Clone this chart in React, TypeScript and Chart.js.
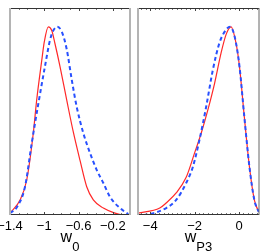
import React, { useEffect, useRef } from "react";
import { Chart, registerables } from "chart.js";
Chart.register(...registerables);

// ---- data: left panel (w0) ----
const w0RedX = [-1.4, -1.283, -1.205, -1.128, -1.089, -1.03, -1.0, -0.953, -0.913, -0.875, -0.817, -0.738, -0.661, -0.583, -0.505, -0.428, -0.311, -0.175, -0.1];
const w0RedY = [0.01, 0.08, 0.186, 0.436, 0.61, 0.82, 0.92, 1.0, 0.98, 0.91, 0.79, 0.61, 0.44, 0.29, 0.15, 0.08, 0.037, 0.01, 0.0];
const w0BlueX = [-1.4, -1.322, -1.225, -1.147, -1.07, -0.992, -0.933, -0.895, -0.848, -0.797, -0.738, -0.68, -0.622, -0.545, -0.467, -0.389, -0.311, -0.233, -0.117, -0.02];
const w0BlueY = [0.01, 0.04, 0.15, 0.38, 0.59, 0.79, 0.93, 0.98, 1.0, 0.975, 0.88, 0.72, 0.575, 0.436, 0.33, 0.24, 0.17, 0.096, 0.037, 0.005];
const w0Ticks = [-1.4, -1, -0.6, -0.2];
const w0Range = [-1.4, 0];
const w0MinorStep = 0.1;

// ---- data: right panel (wP3) ----
const wp3RedX = [-4.55, -3.57, -3.28, -2.83, -2.38, -2.0, -1.7, -1.4, -1.1, -0.81, -0.58, -0.36, -0.13, 0.02, 0.24, 0.47, 0.69, 0.89];
const wp3RedY = [0.01, 0.037, 0.064, 0.117, 0.2, 0.33, 0.436, 0.56, 0.7, 0.86, 0.96, 1.0, 0.91, 0.79, 0.52, 0.255, 0.08, 0.016];
const wp3BlueX = [-4.3, -4.02, -3.28, -2.83, -2.38, -2.08, -1.78, -1.48, -1.18, -0.88, -0.58, -0.4, -0.2, 0.02, 0.24, 0.47, 0.69, 0.89];
const wp3BlueY = [0.0, 0.005, 0.037, 0.08, 0.17, 0.255, 0.4, 0.575, 0.77, 0.915, 0.985, 1.0, 0.95, 0.79, 0.52, 0.255, 0.08, 0.016];
const wp3Ticks = [-4, -2, 0];
const wp3Range = [-4.55, 0.9];
const wp3MinorStep = 0.2;

const axisTitles = [["w", "0"], ["w", "P3"]];
const yMax = 1.1;

const W = 273;
const H = 252;
const FONT = "'Liberation Sans', Arial, Helvetica, sans-serif";

const pts = (xs: number[], ys: number[]) => xs.map((x, i) => ({ x, y: ys[i] }));

const framePlugin = {
  id: "frame",
  afterDraw(chart: any, _a: any, opts: any) {
    const { ctx, chartArea: a } = chart;
    const xs = chart.scales.x;
    ctx.save();
    // ticks
    ctx.strokeStyle = "#777";
    ctx.lineWidth = 1;
    const [lo, hi] = opts.range;
    const start = Math.ceil(lo / opts.minor - 1e-9) * opts.minor;
    for (let v = start; v <= hi + 1e-9; v += opts.minor) {
      const px = Math.round(xs.getPixelForValue(v)) + 0.5;
      ctx.beginPath();
      ctx.moveTo(px, a.top);
      ctx.lineTo(px, a.top + 2);
      ctx.moveTo(px, a.bottom);
      ctx.lineTo(px, a.bottom - 2);
      ctx.stroke();
    }
    ctx.strokeStyle = "#444";
    for (const v of opts.major) {
      const px = Math.round(xs.getPixelForValue(v)) + 0.5;
      ctx.beginPath();
      ctx.moveTo(px, a.top);
      ctx.lineTo(px, a.top + 3);
      ctx.moveTo(px, a.bottom);
      ctx.lineTo(px, a.bottom - 3);
      ctx.stroke();
    }
    // borders
    ctx.strokeStyle = "#333";
    ctx.beginPath();
    ctx.moveTo(a.left, a.top + 0.5);
    ctx.lineTo(a.right, a.top + 0.5);
    ctx.moveTo(a.left, a.bottom - 0.5);
    ctx.lineTo(a.right, a.bottom - 0.5);
    ctx.stroke();
    ctx.strokeStyle = "#b4b4b4";
    ctx.lineWidth = 2;
    ctx.beginPath();
    ctx.moveTo(a.left, a.top);
    ctx.lineTo(a.left, a.bottom);
    ctx.stroke();
    ctx.strokeStyle = opts.rightDark ? "#666" : "#b4b4b4";
    ctx.lineWidth = opts.rightDark ? 1 : 2;
    ctx.beginPath();
    ctx.moveTo(a.right, a.top);
    ctx.lineTo(a.right, a.bottom);
    ctx.stroke();
    // axis title with subscript
    const [main, sub] = opts.title;
    ctx.fillStyle = "#000";
    ctx.textBaseline = "alphabetic";
    ctx.font = `16px ${FONT}`;
    const mw = ctx.measureText(main).width;
    ctx.font = `13px ${FONT}`;
    const sw = ctx.measureText(sub).width;
    const cx = (a.left + a.right) / 2;
    const x0 = cx - (mw + sw) / 2;
    ctx.font = `16px ${FONT}`;
    ctx.fillText(main, x0, 242);
    ctx.font = `13px ${FONT}`;
    ctx.fillText(sub, x0 + mw, 251);
    ctx.restore();
  },
};

function makeConfig(
  redX: number[], redY: number[], blueX: number[], blueY: number[],
  range: number[], major: number[], minor: number, title: string[],
  padLeft: number, padRight: number, rightDark: boolean
): any {
  return {
    type: "line",
    data: {
      datasets: [
        {
          data: pts(blueX, blueY),
          borderColor: "rgb(40,80,255)",
          borderWidth: 2,
          borderDash: [4, 3],
          pointRadius: 0,
          cubicInterpolationMode: "monotone",
          fill: false,
        },
        {
          data: pts(redX, redY),
          borderColor: "rgb(255,40,40)",
          borderWidth: 1.2,
          pointRadius: 0,
          cubicInterpolationMode: "monotone",
          fill: false,
        },
      ],
    },
    options: {
      responsive: false,
      animation: false,
      devicePixelRatio: 1,
      layout: { padding: { left: padLeft, right: padRight, top: 8, bottom: 0 } },
      plugins: {
        legend: { display: false },
        tooltip: { enabled: false },
        frame: { range, major, minor, title, rightDark },
      },
      scales: {
        x: {
          type: "linear",
          min: range[0],
          max: range[1],
          grid: { display: false, drawTicks: false },
          border: { display: false },
          afterBuildTicks: (s: any) => {
            s.ticks = major.map((v) => ({ value: v }));
          },
          afterFit: (s: any) => {
            s.height = H - 215;
            s.paddingLeft = 0;
            s.paddingRight = 0;
          },
          ticks: {
            autoSkip: false,
            maxRotation: 0,
            padding: 4,
            color: "#000",
            font: { family: FONT, size: 13 },
            callback: (v: number) => String(v).replace("-", "\u2212"),
          },
        },
        y: { display: false, min: 0, max: yMax },
      },
    },
    plugins: [framePlugin],
  };
}

export default function App() {
  const leftRef = useRef<HTMLCanvasElement>(null);
  const rightRef = useRef<HTMLCanvasElement>(null);
  useEffect(() => {
    const c1 = new Chart(
      leftRef.current!,
      makeConfig(w0RedX, w0RedY, w0BlueX, w0BlueY, w0Range, w0Ticks, w0MinorStep, axisTitles[0], 10, W - 130, false)
    );
    const c2 = new Chart(
      rightRef.current!,
      makeConfig(wp3RedX, wp3RedY, wp3BlueX, wp3BlueY, wp3Range, wp3Ticks, wp3MinorStep, axisTitles[1], 138, W - 259, true)
    );
    return () => {
      c1.destroy();
      c2.destroy();
    };
  }, []);
  const st: React.CSSProperties = { position: "absolute", left: 0, top: 0, width: W, height: H };
  return (
    <div style={{ position: "absolute", left: 0, top: 0, width: W, height: H, background: "#fff" }}>
      <canvas ref={leftRef} width={W} height={H} style={st} />
      <canvas ref={rightRef} width={W} height={H} style={st} />
    </div>
  );
}
